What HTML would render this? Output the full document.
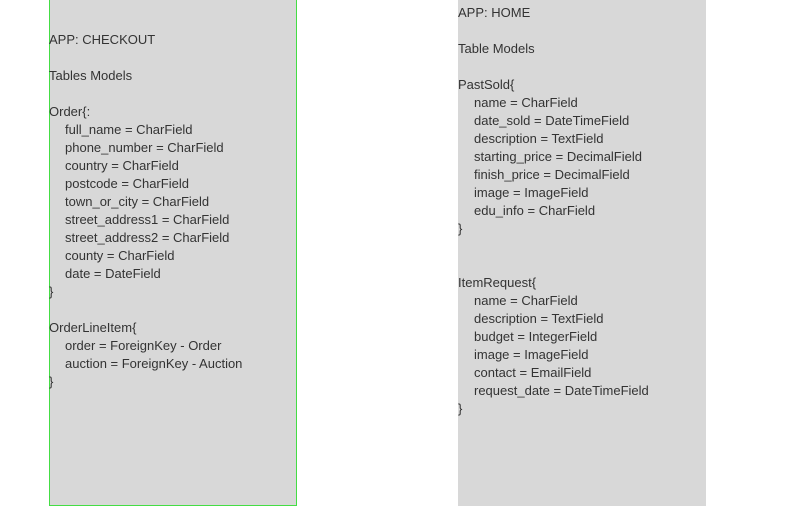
<!DOCTYPE html>
<html><head><meta charset="utf-8"><style>
html,body{margin:0;padding:0;background:#fff;width:791px;height:532px;overflow:hidden}
.box{position:absolute;background:#d8d8d8;box-sizing:border-box}
pre{position:absolute;margin:0;font-family:"Liberation Sans",sans-serif;font-size:13px;line-height:18px;color:#333;white-space:pre}
.i{padding-left:16px}
</style></head><body>
<div class="box" style="left:49px;top:-1px;width:248px;height:507px;border:1px solid #44dd44"></div>
<div class="box" style="left:458px;top:0;width:248px;height:506px"></div>
<pre style="left:49px;top:31px">APP: CHECKOUT

Tables Models

Order{:
<span class="i">full_name = CharField</span>
<span class="i">phone_number = CharField</span>
<span class="i">country = CharField</span>
<span class="i">postcode = CharField</span>
<span class="i">town_or_city = CharField</span>
<span class="i">street_address1 = CharField</span>
<span class="i">street_address2 = CharField</span>
<span class="i">county = CharField</span>
<span class="i">date = DateField</span>
}

OrderLineItem{
<span class="i">order = ForeignKey - Order</span>
<span class="i">auction = ForeignKey - Auction</span>
}</pre>
<pre style="left:458px;top:4px">APP: HOME

Table Models

PastSold{
<span class="i">name = CharField</span>
<span class="i">date_sold = DateTimeField</span>
<span class="i">description = TextField</span>
<span class="i">starting_price = DecimalField</span>
<span class="i">finish_price = DecimalField</span>
<span class="i">image = ImageField</span>
<span class="i">edu_info = CharField</span>
}


ItemRequest{
<span class="i">name = CharField</span>
<span class="i">description = TextField</span>
<span class="i">budget = IntegerField</span>
<span class="i">image = ImageField</span>
<span class="i">contact = EmailField</span>
<span class="i">request_date = DateTimeField</span>
}</pre>
</body></html>
